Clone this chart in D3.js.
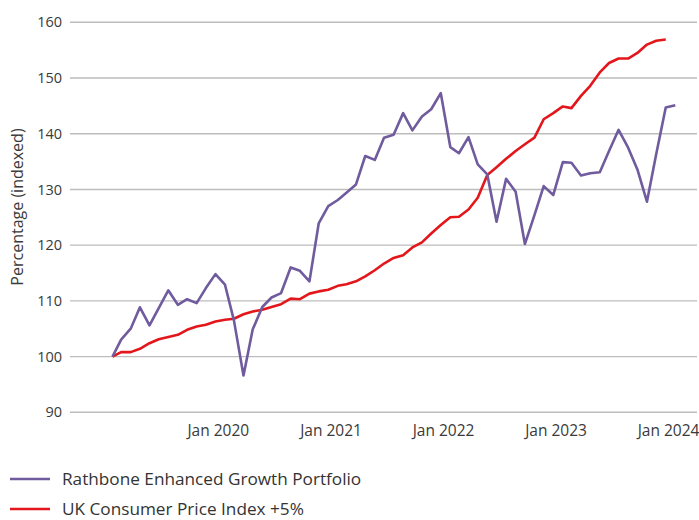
<!DOCTYPE html>
<html>
<head>
<meta charset="utf-8">
<script src="https://cdn.jsdelivr.net/npm/d3@7"></script>
<style>
  html, body { margin: 0; padding: 0; background: #fff; }
  svg { display: block; font-family: "Open Sans", "Noto Sans", sans-serif; }
</style>
</head>
<body>
<svg id="chart" width="699" height="520"></svg>
<script>
// ---- data ----
const startDate = "2019-01-31";
const portfolioValues = [
  100, 103.05, 105.0, 108.85, 105.6, 108.7, 111.9, 109.3, 110.3, 109.6,
  112.3, 114.8, 112.9, 106.5, 96.6, 104.9, 108.9, 110.6, 111.4, 116.0,
  115.4, 113.5, 123.9, 127.0, 128.1, 129.4, 130.9, 136.0, 135.3, 139.3,
  139.8, 143.7, 140.6, 143.1, 144.4, 147.3, 137.6, 136.5, 139.4, 134.5,
  132.7, 124.2, 131.9, 129.6, 120.2, 125.4, 130.6, 129.0, 134.9, 134.8,
  132.5, 132.9, 133.1, 136.9, 140.7, 137.5, 133.6, 127.8, 136.3, 144.7,
  145.1
];
const cpiValues = [
  100, 100.8, 100.8, 101.4, 102.4, 103.1, 103.5, 103.9, 104.8, 105.4,
  105.7, 106.3, 106.6, 106.8, 107.6, 108.1, 108.4, 108.9, 109.4, 110.4,
  110.3, 111.3, 111.7, 112.0, 112.7, 113.0, 113.5, 114.4, 115.5, 116.7,
  117.7, 118.2, 119.6, 120.5, 122.1, 123.6, 125.0, 125.1, 126.4, 128.5,
  132.6, 134.0, 135.5, 136.9, 138.1, 139.3, 142.6, 143.7, 144.9, 144.6,
  146.8, 148.6, 151.0, 152.7, 153.5, 153.5, 154.5, 156.0, 156.7, 156.9
];
const yTicks = [90, 100, 110, 120, 130, 140, 150, 160];
const xTickLabels = ["Jan 2020", "Jan 2021", "Jan 2022", "Jan 2023", "Jan 2024"];
const seriesNames = ["Rathbone Enhanced Growth Portfolio", "UK Consumer Price Index +5%"];
const seriesColors = ["#6f5b9d", "#e3161b"];

// month-end dates
function monthEnd(i) {
  const s = new Date(startDate + "T00:00:00");
  return new Date(s.getFullYear(), s.getMonth() + i + 1, 0);
}
const portfolio = portfolioValues.map((v, i) => ({ date: monthEnd(i), value: v }));
const cpi = cpiValues.map((v, i) => ({ date: monthEnd(i), value: v }));
const xTickDates = xTickLabels.map(l => new Date(+l.slice(4), 0, 1));

const svg = d3.select("#chart");
const gridLeft = 70, gridRight = 697;

const x = d3.scaleTime()
  .domain([monthEnd(0), monthEnd(60)])
  .range([112.5, 675.3]);
const y = d3.scaleLinear().domain([90, 160]).range([412.3, 22.3]);

// gridlines
svg.append("g").selectAll("line").data(yTicks).join("line")
  .attr("x1", gridLeft).attr("x2", gridRight)
  .attr("y1", d => y(d)).attr("y2", d => y(d))
  .attr("stroke", "#bdbdbd").attr("stroke-width", 1.4);

// y axis labels
const yAxis = d3.axisLeft(y).tickValues(yTicks).tickSize(0).tickPadding(0);
const yg = svg.append("g").attr("transform", "translate(62,0)").call(yAxis);
yg.select(".domain").remove();
yg.selectAll("text").attr("font-size", 14.5).attr("fill", "#3a3a3a")
  .attr("font-family", "'Open Sans', sans-serif");

// x axis labels
const xAxis = d3.axisBottom(x).tickValues(xTickDates)
  .tickFormat((d, i) => xTickLabels[i]).tickSize(0).tickPadding(0);
const xg = svg.append("g").attr("transform", "translate(2,425)").call(xAxis);
xg.select(".domain").remove();
xg.selectAll("text").attr("font-size", 15.5).attr("fill", "#3a3a3a")
  .attr("font-family", "'Open Sans', sans-serif");

// y title
svg.append("text")
  .attr("transform", "translate(23,207) rotate(-90)")
  .attr("text-anchor", "middle")
  .attr("font-size", 16).attr("fill", "#3a3a3a")
  .text("Percentage (indexed)");

// lines
const line = d3.line().x(d => x(d.date)).y(d => y(d.value));
svg.append("path").datum(cpi).attr("d", line)
  .attr("fill", "none").attr("stroke", seriesColors[1]).attr("stroke-width", 2.6)
  .attr("stroke-linejoin", "round");
svg.append("path").datum(portfolio).attr("d", line)
  .attr("fill", "none").attr("stroke", seriesColors[0]).attr("stroke-width", 2.6)
  .attr("stroke-linejoin", "round");

// legend
const legend = svg.append("g");
seriesNames.forEach((name, i) => {
  const ly = 479 + i * 30;
  legend.append("line").attr("x1", 10).attr("x2", 50).attr("y1", ly).attr("y2", ly)
    .attr("stroke", seriesColors[i]).attr("stroke-width", 2.6);
  legend.append("text").attr("x", 62).attr("y", ly).attr("dy", "0.35em")
    .attr("font-size", 17.2).attr("fill", "#333").text(name);
});
</script>
</body>
</html>
